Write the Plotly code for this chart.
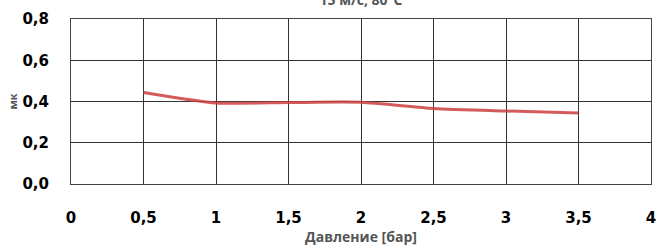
import plotly.graph_objects as go

pressure = [0.5, 1.0, 1.5, 2.0, 2.5, 3.0, 3.5]
mk = [0.444, 0.393, 0.395, 0.396, 0.366, 0.354, 0.344]

x_ticks = [0, 0.5, 1, 1.5, 2, 2.5, 3, 3.5, 4]
x_labels = ["0", "0,5", "1", "1,5", "2", "2,5", "3", "3,5", "4"]
y_ticks = [0, 0.2, 0.4, 0.6, 0.8]
y_labels = ["0,0", "0,2", "0,4", "0,6", "0,8"]

title_text = "15 м/с, 80°C"
x_title = "Давление [бар]"
y_title = "мк"

fig = go.Figure()
fig.add_trace(go.Scatter(
    x=pressure, y=mk, mode="lines",
    line=dict(color="rgba(204,62,62,0.85)", width=3, shape="spline", smoothing=0.6),
    showlegend=False, hoverinfo="skip",
))

tick_font = dict(family="DejaVu Sans", size=15, color="#000000", weight="bold")
fig.update_layout(
    width=659, height=246,
    margin=dict(l=71, r=8, t=19, b=62, autoexpand=False),
    paper_bgcolor="white", plot_bgcolor="white",
    title=dict(text=title_text, x=0.5, xref="paper",
               y=1.0, yref="container", yanchor="middle", automargin=False,
               font=dict(family="Open Sans", size=14, color="#555555", weight="bold")),
    xaxis=dict(range=[0, 4], tickvals=x_ticks, ticktext=x_labels, automargin=False,
               tickfont=tick_font, ticks="", ticklabelstandoff=20,
               showgrid=True, gridcolor="#333333", gridwidth=1,
               showline=True, linecolor="#444444", linewidth=1, mirror=True,
               zeroline=False,
               title=dict(text=x_title, standoff=6,
                          font=dict(family="Open Sans", size=14, color="#555555", weight="bold"))),
    yaxis=dict(range=[0, 0.8], tickvals=y_ticks, ticktext=y_labels, automargin=False,
               tickfont=tick_font, ticks="", ticklabelstandoff=18,
               showgrid=True, gridcolor="#333333", gridwidth=1,
               showline=True, linecolor="#444444", linewidth=1, mirror=True,
               zeroline=False,
               title=dict(text=y_title, standoff=2,
                          font=dict(family="Open Sans", size=11, color="#555555", weight="bold"))),
)

fig.write_html("out.html", config={"displayModeBar": False},
               post_script="document.body.style.margin='0';document.body.style.overflow='hidden';")
